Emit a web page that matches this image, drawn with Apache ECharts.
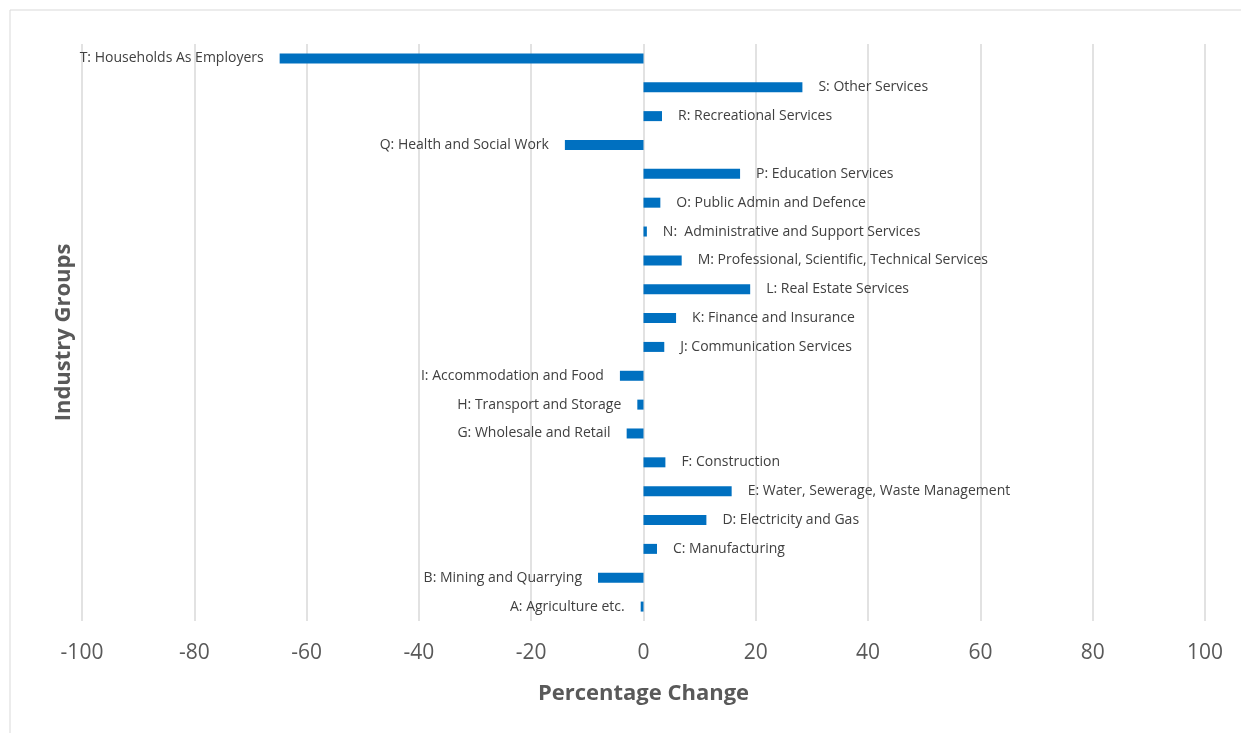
<!DOCTYPE html>
<html>
<head>
<meta charset="utf-8">
<script src="https://cdn.jsdelivr.net/npm/echarts@6/dist/echarts.min.js"></script>
<style>
  html, body { margin: 0; padding: 0; background: #fff; }
  #chart { width: 1241px; height: 733px; }
</style>
</head>
<body>
<div id="chart"></div>
<script>
// Industry groups, listed bottom to top (A at the bottom of the axis)
const industries = [
  'A: Agriculture etc.',
  'B: Mining and Quarrying',
  'C: Manufacturing',
  'D: Electricity and Gas',
  'E: Water, Sewerage, Waste Management',
  'F: Construction',
  'G: Wholesale and Retail',
  'H: Transport and Storage',
  'I: Accommodation and Food',
  'J: Communication Services',
  'K: Finance and Insurance',
  'L: Real Estate Services',
  'M: Professional, Scientific, Technical Services',
  'N:  Administrative and Support Services',
  'O: Public Admin and Defence',
  'P: Education Services',
  'Q: Health and Social Work',
  'R: Recreational Services',
  'S: Other Services',
  'T: Households As Employers'
];

// Percentage change per industry group
const pctChange = [
  -0.5, -8.1, 2.4, 11.2, 15.7, 3.9, -3.0, -1.1, -4.2, 3.7,
  5.8, 19.0, 6.8, 0.6, 3.0, 17.2, -14.0, 3.3, 28.3, -64.8
];

const xTicks = { min: -100, max: 100, step: 20 };

const textGrey = '#595959';
const labelGrey = '#404040';
const fontFamily = '"Open Sans", "Noto Sans", sans-serif';

// Labels sit beyond the bar end: right of positive bars, left of negative ones
const barData = pctChange.map(v => ({
  value: v,
  label: { position: v < 0 ? 'left' : 'right' }
}));

const chart = echarts.init(document.getElementById('chart'), null, { renderer: 'canvas' });

chart.setOption({
  animation: false,
  backgroundColor: '#ffffff',
  graphic: [{
    type: 'rect',
    shape: { x: 10, y: 10, width: 1260, height: 760 },
    style: { fill: 'none', stroke: '#d9d9d9', lineWidth: 1 },
    silent: true,
    z: -1
  }],
  grid: { left: 82, right: 36, top: 44, bottom: 112 },
  xAxis: {
    type: 'value',
    min: xTicks.min,
    max: xTicks.max,
    interval: xTicks.step,
    name: 'Percentage Change',
    nameLocation: 'middle',
    nameGap: 62,
    nameTextStyle: { color: textGrey, fontSize: 22, fontWeight: 'bold', fontFamily },
    axisLine: { show: false },
    axisTick: { show: false },
    axisLabel: { color: textGrey, fontSize: 21, fontFamily, margin: 22 },
    splitLine: { show: true, lineStyle: { color: '#d9d9d9', width: 1.5 } }
  },
  yAxis: {
    type: 'category',
    data: industries,
    name: 'Industry Groups',
    nameLocation: 'middle',
    nameGap: 7,
    nameRotate: 90,
    nameTextStyle: { color: textGrey, fontSize: 22, fontWeight: 'bold', fontFamily },
    axisLine: { show: false },
    axisTick: { show: false },
    axisLabel: { show: false },
    splitLine: { show: false }
  },
  series: [{
    type: 'bar',
    data: barData,
    barWidth: 10,
    itemStyle: { color: '#0070C0' },
    label: {
      show: true,
      distance: 16,
      color: labelGrey,
      fontSize: 14,
      fontFamily,
      formatter: p => p.name
    }
  }]
});
</script>
</body>
</html>
